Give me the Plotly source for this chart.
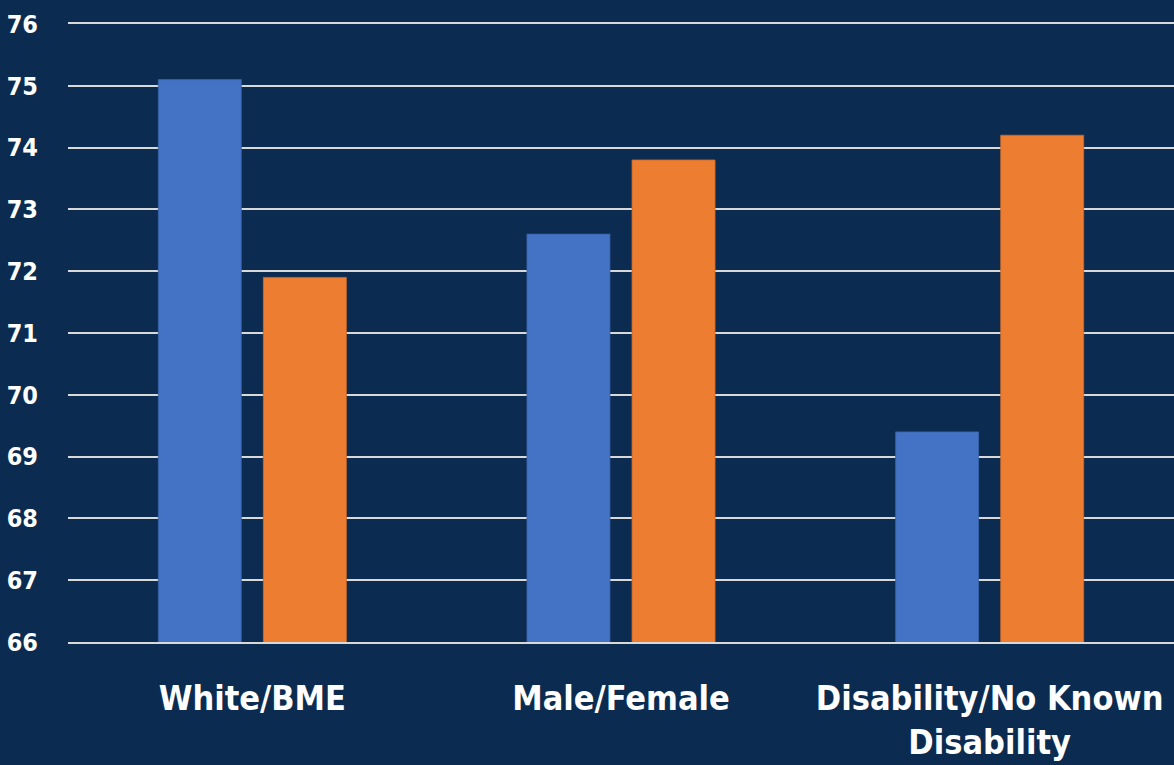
import plotly.graph_objects as go

categories = ["White/BME", "Male/Female", "Disability/No Known<br>Disability"]
first_group = [75.1, 72.6, 69.4]
second_group = [71.9, 73.8, 74.2]
y_ticks = [66, 67, 68, 69, 70, 71, 72, 73, 74, 75, 76]

BG = "#0B2C50"
GRID = "#D9D9D9"
FONT = "DejaVu Sans Condensed"

fig = go.Figure()
fig.add_trace(go.Bar(x=categories, y=first_group, marker=dict(color="#4472C4", line=dict(color="#3A62A8", width=0.8))))
fig.add_trace(go.Bar(x=categories, y=second_group, marker=dict(color="#ED7D31", line=dict(color="#C9692A", width=0.8))))

fig.update_layout(
    width=1174, height=765,
    paper_bgcolor=BG, plot_bgcolor=BG,
    margin=dict(l=68, r=0, t=24, b=123),
    barmode="group", bargap=0.43, bargroupgap=0.21,
    showlegend=False,
    font=dict(family=FONT, color="white"),
)
fig.update_yaxes(
    range=[66, 76], tickvals=y_ticks, showgrid=True, gridcolor=GRID, gridwidth=2,
    zeroline=False, showline=False, ticks="", ticklabelstandoff=29,
    tickfont=dict(family=FONT, size=25, color="white", weight="bold"),
)
fig.update_xaxes(
    showline=True, mirror=True, linecolor=GRID, linewidth=2, ticks="", ticklabelstandoff=25,
    tickfont=dict(family=FONT, size=34, color="white", weight="bold"),
)
fig.write_html("out.html")
